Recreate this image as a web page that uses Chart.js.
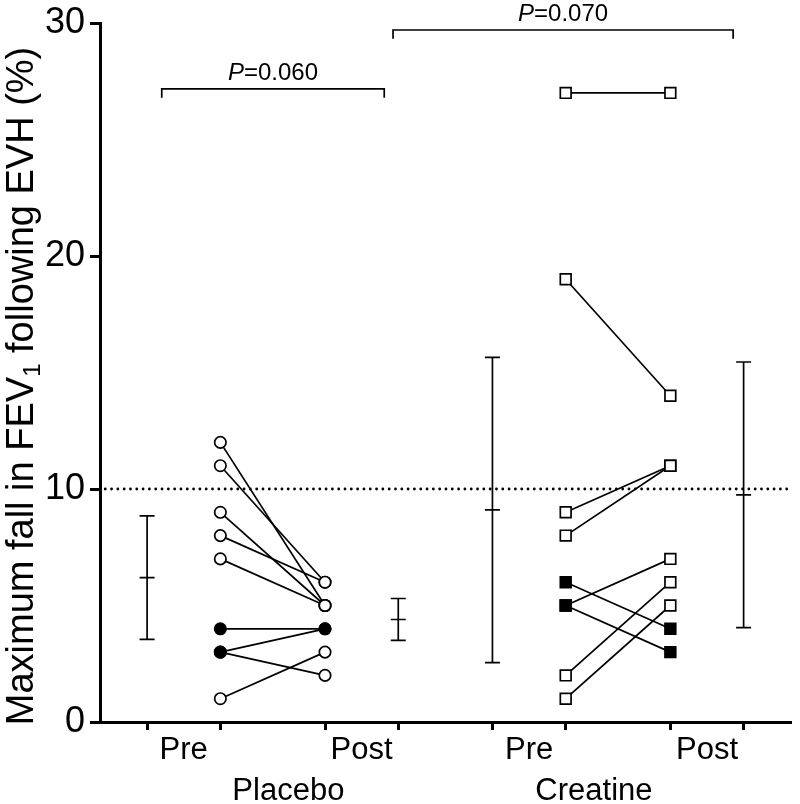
<!DOCTYPE html>
<html>
<head>
<meta charset="utf-8">
<script src="https://cdn.jsdelivr.net/npm/chart.js@4.4.1/dist/chart.umd.min.js"></script>
<style>
  html, body { margin: 0; padding: 0; background: #fff; }
</style>
</head>
<body>
<canvas id="fev-chart" width="800" height="804"></canvas>
<script>
'use strict';

// Data ********** //
// one entry per subject: pre value, post value, filled marker or not
let placeboPre = [12, 11, 9, 8, 7, 4, 3, 3, 1];
let placeboPost = [5, 6, 5, 6, 5, 4, 4, 2, 3];
let placeboPreFilled = [false, false, false, false, false, true, true, true, false];
let placeboPostFilled = [false, false, false, false, false, true, true, false, false];

let creatinePre = [27, 19, 9, 8, 6, 5, 5, 2, 1];
let creatinePost = [27, 14, 11, 11, 4, 3, 7, 6, 5];
let creatinePreFilled = [false, false, false, false, true, true, true, false, false];
let creatinePostFilled = [false, false, false, false, true, true, false, false, false];

// mean and SD bars: placebo pre, placebo post, creatine pre, creatine post
let barMeans = [6.2, 4.4, 9.1, 9.75];
let barSds = [2.65, 0.9, 6.55, 5.7];

let thresholdValue = 10;
let yTicks = [0, 10, 20, 30];

let timeLabels = ['Pre', 'Post', 'Pre', 'Post'];
let groupLabels = ['Placebo', 'Creatine'];
let pLabels = ['0.060', '0.070'];

// Layout on the x axis (category slots) **********//
let xPlacebo = [1, 2];
let xCreatine = [4.3, 5.3];
let xBars = [0.3, 2.7, 3.6, 6.0];
let xTimeLabels = [0.65, 2.35, 3.95, 5.65];
let xGroupLabels = [1.65, 4.57];
let bracketX = [[0.44, 2.566], [2.65, 5.9]];
let bracketY = [27.17, 29.7];
let bracketDrop = 0.38;

let fontFamily = '"Liberation Sans", Arial, Helvetica, sans-serif';

// Helper Functions **********//
function subjectLines(pre, post, xs) {
  let sets = [];
  for (let i = 0; i < pre.length; i++) {
    sets.push({
      data: [{ x: xs[0], y: pre[i] }, { x: xs[1], y: post[i] }],
      showLine: true,
      borderColor: '#000',
      borderWidth: 1.7,
      pointRadius: 0,
      order: 5
    });
  }
  return sets;
}

function markerSet(values, filled, x, style, radius) {
  // draw open markers first so the filled ones sit on top
  let idx = values.map((v, i) => i).sort((a, b) => filled[a] - filled[b]);
  return {
    data: idx.map(i => ({ x: x, y: values[i] })),
    showLine: false,
    pointStyle: style,
    pointRadius: radius,
    pointBorderWidth: 1.7,
    pointBorderColor: '#000',
    pointBackgroundColor: idx.map(i => filled[i] ? '#000' : '#fff'),
    order: 1
  };
}

function errorBar(i) {
  return {
    data: [
      { x: xBars[i], y: barMeans[i] - barSds[i] },
      { x: xBars[i], y: barMeans[i] },
      { x: xBars[i], y: barMeans[i] + barSds[i] }
    ],
    showLine: true,
    borderColor: '#000',
    borderWidth: 1.7,
    pointStyle: 'line',
    pointRadius: 7.5,
    pointBorderWidth: 1.7,
    pointBorderColor: '#000',
    order: 2
  };
}

function bracket(i) {
  let a = bracketX[i][0];
  let b = bracketX[i][1];
  let y = bracketY[i];
  return {
    data: [{ x: a, y: y - bracketDrop }, { x: a, y: y }, { x: b, y: y }, { x: b, y: y - bracketDrop }],
    showLine: true,
    borderColor: '#000',
    borderWidth: 1.7,
    pointRadius: 0,
    order: 4
  };
}

// Datasets **********//
let datasets = [];
datasets = datasets.concat(subjectLines(placeboPre, placeboPost, xPlacebo));
datasets = datasets.concat(subjectLines(creatinePre, creatinePost, xCreatine));
datasets.push(markerSet(placeboPre, placeboPreFilled, xPlacebo[0], 'circle', 5.7));
datasets.push(markerSet(placeboPost, placeboPostFilled, xPlacebo[1], 'circle', 5.7));
datasets.push(markerSet(creatinePre, creatinePreFilled, xCreatine[0], 'rect', 7.6));
datasets.push(markerSet(creatinePost, creatinePostFilled, xCreatine[1], 'rect', 7.6));
for (let i = 0; i < barMeans.length; i++) {
  datasets.push(errorBar(i));
}
datasets.push(bracket(0));
datasets.push(bracket(1));
// dotted 10% line
datasets.push({
  data: [{ x: -0.1, y: thresholdValue }, { x: 6.42, y: thresholdValue }],
  showLine: true,
  borderColor: '#000',
  borderWidth: 2.8,
  borderDash: [0.01, 6.3],
  borderCapStyle: 'round',
  pointRadius: 0,
  order: 6
});

// Text plugin **********//
let textPlugin = {
  id: 'textPlugin',
  afterDraw(chart) {
    let ctx = chart.ctx;
    let xScale = chart.scales.x;
    let yScale = chart.scales.y;
    ctx.save();
    ctx.fillStyle = '#000';
    ctx.textBaseline = 'alphabetic';
    ctx.textAlign = 'center';

    ctx.font = '31px ' + fontFamily;
    for (let i = 0; i < timeLabels.length; i++) {
      ctx.fillText(timeLabels[i], xScale.getPixelForValue(xTimeLabels[i]), 759);
    }
    for (let i = 0; i < groupLabels.length; i++) {
      ctx.fillText(groupLabels[i], xScale.getPixelForValue(xGroupLabels[i]), 800);
    }

    // P values over the brackets
    ctx.textAlign = 'left';
    for (let i = 0; i < pLabels.length; i++) {
      let italic = 'italic 24px ' + fontFamily;
      let normal = '24px ' + fontFamily;
      ctx.font = italic;
      let wP = ctx.measureText('P').width;
      ctx.font = normal;
      let rest = '=' + pLabels[i];
      let wRest = ctx.measureText(rest).width;
      let cx = xScale.getPixelForValue((bracketX[i][0] + bracketX[i][1]) / 2);
      let y = yScale.getPixelForValue(bracketY[i]) - 9;
      let x0 = cx - (wP + wRest) / 2;
      ctx.font = italic;
      ctx.fillText('P', x0, y);
      ctx.font = normal;
      ctx.fillText(rest, x0 + wP, y);
    }

    // y axis title with subscript
    let partA = 'Maximum fall in FEV';
    let sub = '1';
    let partB = ' following EVH (%)';
    let big = '38px ' + fontFamily;
    let small = '24px ' + fontFamily;
    ctx.font = big;
    let wA = ctx.measureText(partA).width;
    let wB = ctx.measureText(partB).width;
    ctx.font = small;
    let wS = ctx.measureText(sub).width;
    let total = wA + wS + wB;
    ctx.translate(33, 386);
    ctx.rotate(-Math.PI / 2);
    let x = -total / 2;
    ctx.font = big;
    ctx.fillText(partA, x, 0);
    ctx.font = small;
    ctx.fillText(sub, x + wA, 7);
    ctx.font = big;
    ctx.fillText(partB, x + wA + wS, 0);
    ctx.restore();
  }
};

// Chart **********//
let ctx = document.getElementById('fev-chart');

new Chart(ctx, {
  type: 'scatter',
  data: { datasets: datasets },
  options: {
    responsive: false,
    animation: false,
    devicePixelRatio: 1,
    layout: { padding: { top: 23, left: 0, right: 0, bottom: 0 } },
    plugins: {
      legend: { display: false },
      tooltip: { enabled: false }
    },
    scales: {
      x: {
        type: 'linear',
        min: -0.15,
        max: 6.45,
        afterBuildTicks: function (scale) {
          let tickXs = [xBars[0], xPlacebo[0], xPlacebo[1], xBars[1], xBars[2], xCreatine[0], xCreatine[1], xBars[3]];
          scale.ticks = tickXs.map(v => ({ value: v }));
        },
        afterFit: function (scale) {
          scale.height = 82;
          scale.paddingLeft = 0;
          scale.paddingRight = 0;
        },
        ticks: { display: false },
        grid: { drawOnChartArea: false, drawTicks: true, tickLength: 8, color: '#000', lineWidth: 3 },
        border: { display: true, color: '#000', width: 3 }
      },
      y: {
        min: 0,
        max: 30,
        afterBuildTicks: function (scale) {
          scale.ticks = yTicks.map(v => ({ value: v }));
        },
        afterFit: function (scale) {
          scale.width = 100;
          scale.paddingTop = 0;
          scale.paddingBottom = 0;
        },
        ticks: {
          color: '#000',
          padding: 5,
          font: { family: fontFamily, size: 36 }
        },
        grid: { drawOnChartArea: false, drawTicks: true, tickLength: 10, color: '#000', lineWidth: 3 },
        border: { display: true, color: '#000', width: 3 }
      }
    }
  },
  plugins: [textPlugin]
});
</script>
</body>
</html>
